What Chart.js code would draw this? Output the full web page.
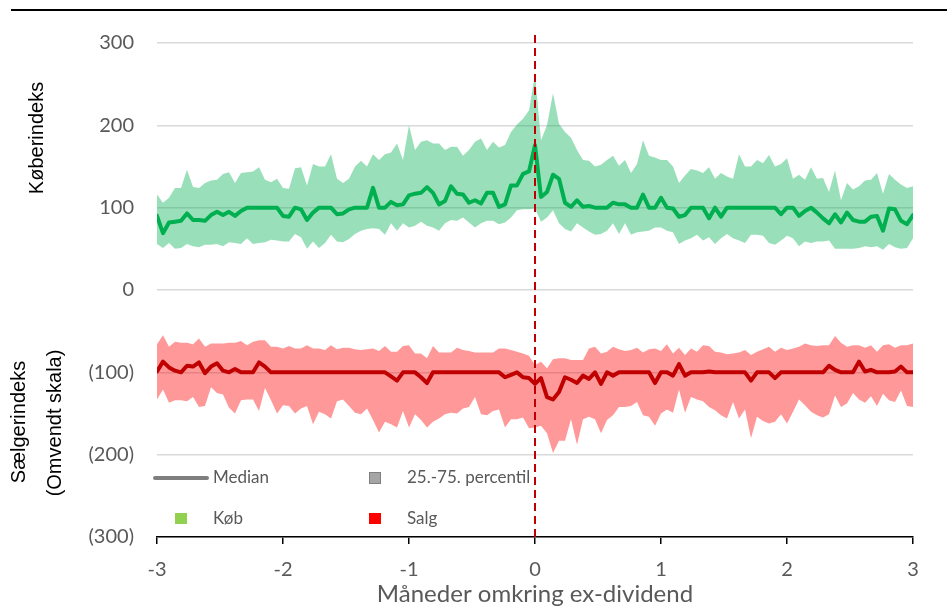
<!DOCTYPE html>
<html lang="da">
<head>
<meta charset="utf-8"/>
<title>Køber- og sælgerindeks omkring ex-dividend</title>
<script src="https://cdn.jsdelivr.net/npm/chart.js"></script>
<style>
    html, body { margin: 0; padding: 0; background: #fff; }
    #wrap { position: relative; width: 947px; height: 609px; }
    #topline { position: absolute; left: 11px; right: 0; top: 9px; height: 2px; background: #000; }
</style>
</head>
<body>
<div id="wrap">
    <canvas id="myChart" width="947" height="609"></canvas>
    <div id="topline"></div>
</div>
<script>
// trading days around ex-dividend day (21 trading days per month)
const tradingDays = Array.from({length: 127}, (_, i) => i - 63);
const daysPerMonth = 21;

// Købsindeks (buyer index)
const buyMedian = [90,69,82,83,84,93,85,85,84,91,
    95,91,95,90,96,100,100,100,100,100,
    100,90,89,100,98,85,94,100,100,100,
    92,93,98,100,100,100,124,100,100,107,
    103,104,115,117,118,125,118,104,108,126,
    117,116,106,109,105,118,118,101,104,127,
    127,141,144,176,113,119,140,135,106,101,
    109,101,102,100,100,100,106,104,104,100,
    100,116,100,100,112,100,99,89,91,100,
    100,100,87,100,89,100,100,100,100,100,
    100,100,100,100,92,100,100,90,96,100,
    94,87,81,92,82,94,85,83,83,89,
    90,72,99,98,84,80,91];
const buyP75 = [116,106,112,124,124,146,125,124,130,133,
    134,141,143,130,142,143,144,149,134,131,
    135,124,123,148,149,127,153,150,150,165,
    135,130,135,150,157,150,165,158,165,167,
    178,158,200,170,180,182,178,178,170,174,
    174,163,170,180,184,170,180,173,176,192,
    201,208,218,262,182,200,239,202,192,185,
    170,158,157,150,152,158,163,151,158,142,
    153,182,163,161,158,158,150,130,139,147,
    145,142,149,135,142,138,135,165,150,150,
    158,154,164,150,153,160,135,140,134,149,
    135,136,119,145,109,130,122,126,133,134,
    142,117,141,134,128,124,126];
const buyP25 = [56,51,57,50,51,56,53,52,55,55,
    56,53,58,57,56,63,56,57,58,61,
    60,59,59,68,64,50,59,51,57,67,
    59,58,62,68,72,74,75,74,67,81,
    72,81,76,78,83,78,76,72,81,85,
    84,88,82,76,81,84,84,80,82,88,
    97,98,98,99,83,88,97,81,74,71,
    81,76,71,67,68,72,81,68,81,67,
    70,71,72,76,76,72,70,56,60,63,
    67,60,64,56,63,68,63,60,57,67,
    67,66,57,55,60,66,63,53,59,57,
    59,59,60,50,50,50,50,51,53,52,
    53,49,56,52,50,51,63];

// Sælgerindeks (seller index, plotted on an inverted scale)
const sellMedian = [-99,-87,-94,-98,-100,-92,-93,-88,-101,-93,
    -89,-98,-100,-96,-100,-100,-100,-88,-93,-100,
    -100,-100,-100,-100,-100,-100,-100,-100,-100,-100,
    -100,-100,-100,-100,-100,-100,-100,-100,-100,-105,
    -110,-100,-100,-100,-106,-113,-100,-100,-100,-100,
    -100,-100,-100,-100,-100,-100,-100,-100,-106,-103,
    -100,-106,-107,-114,-107,-130,-133,-124,-106,-109,
    -113,-104,-108,-100,-114,-100,-104,-100,-100,-100,
    -100,-100,-100,-113,-100,-100,-104,-90,-104,-100,
    -100,-100,-99,-100,-100,-100,-100,-100,-100,-110,
    -100,-100,-100,-107,-100,-100,-100,-100,-100,-100,
    -100,-100,-92,-97,-100,-100,-100,-87,-99,-97,
    -100,-100,-100,-99,-93,-100,-100];
const sellP25 = [-66,-55,-69,-63,-64,-64,-66,-59,-69,-65,
    -65,-65,-64,-64,-62,-67,-63,-61,-61,-69,
    -69,-71,-68,-71,-71,-67,-71,-71,-73,-67,
    -72,-70,-70,-72,-73,-72,-71,-74,-68,-75,
    -75,-68,-67,-77,-77,-83,-68,-76,-76,-76,
    -70,-73,-74,-76,-76,-76,-76,-71,-71,-73,
    -75,-77,-80,-91,-87,-95,-84,-83,-83,-85,
    -85,-85,-71,-69,-77,-75,-69,-72,-74,-73,
    -70,-76,-72,-71,-74,-66,-77,-70,-79,-71,
    -75,-67,-68,-75,-76,-78,-77,-76,-73,-79,
    -75,-72,-69,-75,-70,-73,-71,-69,-65,-67,
    -68,-67,-67,-56,-64,-69,-67,-67,-70,-67,
    -75,-67,-66,-70,-67,-67,-65];
const sellP75 = [-133,-121,-137,-134,-134,-135,-130,-142,-141,-118,
    -125,-127,-143,-150,-134,-133,-133,-147,-119,-134,
    -150,-140,-141,-150,-144,-141,-163,-148,-151,-156,
    -135,-133,-141,-149,-151,-144,-158,-173,-160,-163,
    -167,-147,-167,-151,-158,-167,-160,-156,-151,-149,
    -150,-144,-142,-130,-151,-152,-147,-145,-167,-157,
    -157,-155,-168,-167,-165,-174,-198,-183,-183,-157,
    -188,-157,-154,-157,-174,-158,-152,-142,-142,-141,
    -136,-152,-154,-165,-150,-145,-149,-121,-149,-130,
    -133,-135,-142,-146,-152,-156,-136,-156,-145,-180,
    -154,-159,-162,-160,-151,-162,-148,-133,-140,-148,
    -152,-155,-151,-128,-142,-138,-125,-133,-137,-129,
    -141,-126,-134,-136,-122,-141,-142];

// ex-dividend marker
const exDivMonth = 0;
const exDivSpan = [-300, 310];

const xTicks = [-3, -2, -1, 0, 1, 2, 3];
const yTicks = [-300, -200, -100, 0, 100, 200, 300];
const xTitle = 'Måneder omkring ex-dividend';
const yTitles = ['Køberindeks', 'Sælgerindeks', '(Omvendt skala)'];
const legendLabels = ['Median', '25.-75. percentil', 'Køb', 'Salg'];

function points(values) {
    return values.map((v, i) => ({x: tradingDays[i] / daysPerMonth, y: v}));
}

const tickFont = {family: 'Lato, "Open Sans", sans-serif', size: 20};
const grey = '#595959';

// y axis titles and the little legend inside the plot
const annotations = {
    id: 'annotations',
    afterDraw(chart) {
        const ctx = chart.ctx;
        ctx.save();
        ctx.fillStyle = '#000';
        ctx.font = '20px "Liberation Sans", Arial, sans-serif';
        ctx.textAlign = 'center';
        ctx.textBaseline = 'middle';
        [[yTitles[0], 37, 138], [yTitles[1], 19, 422], [yTitles[2], 55, 423]].forEach(function (t) {
            ctx.save();
            ctx.translate(t[1], t[2]);
            ctx.rotate(-Math.PI / 2);
            ctx.fillText(t[0], 0, 0);
            ctx.restore();
        });

        // legend
        ctx.font = '17px Lato, "Open Sans", sans-serif';
        ctx.textAlign = 'left';
        ctx.fillStyle = grey;
        ctx.strokeStyle = '#7F7F7F';
        ctx.lineWidth = 4;
        ctx.lineCap = 'round';
        ctx.beginPath();
        ctx.moveTo(155, 478);
        ctx.lineTo(207, 478);
        ctx.stroke();
        ctx.fillText(legendLabels[0], 213, 478);

        ctx.lineWidth = 1;
        ctx.fillStyle = '#A5A5A5';
        ctx.fillRect(369.5, 472.5, 11, 11);
        ctx.strokeRect(369.5, 472.5, 11, 11);
        ctx.fillStyle = grey;
        ctx.fillText(legendLabels[1], 407, 478);

        ctx.fillStyle = '#92D050';
        ctx.fillRect(175, 513, 12, 11);
        ctx.fillStyle = grey;
        ctx.fillText(legendLabels[2], 213, 519);

        ctx.fillStyle = '#FF0000';
        ctx.fillRect(369, 513, 12, 11);
        ctx.fillStyle = grey;
        ctx.fillText(legendLabels[3], 407, 519);
        ctx.restore();
    }
};

var ctx = document.getElementById('myChart');
var mychart = new Chart(ctx, {
    type: 'line',
    data: {
        datasets: [
            {
                label: 'Ex-dividend',
                data: exDivSpan.map(y => ({x: exDivMonth, y: y})),
                borderColor: '#C00000',
                borderWidth: 2,
                borderDash: [8, 5],
                pointRadius: 0,
                fill: false,
                clip: false
            },
            {
                label: 'Køb median',
                data: points(buyMedian),
                borderColor: '#00B050',
                borderWidth: 4,
                borderJoinStyle: 'round',
                borderCapStyle: 'round',
                pointRadius: 0,
                fill: false
            },
            {
                label: 'Salg median',
                data: points(sellMedian),
                borderColor: '#C00000',
                borderWidth: 4,
                borderJoinStyle: 'round',
                borderCapStyle: 'round',
                pointRadius: 0,
                fill: false
            },
            {
                label: 'Køb 75. percentil',
                data: points(buyP75),
                borderWidth: 0,
                borderColor: 'rgba(0,0,0,0)',
                backgroundColor: 'rgba(0,176,80,0.4)',
                pointRadius: 0,
                fill: '+1'
            },
            {
                label: 'Køb 25. percentil',
                data: points(buyP25),
                borderWidth: 0,
                borderColor: 'rgba(0,0,0,0)',
                pointRadius: 0,
                fill: false
            },
            {
                label: 'Salg 25. percentil',
                data: points(sellP25),
                borderWidth: 0,
                borderColor: 'rgba(0,0,0,0)',
                backgroundColor: 'rgba(255,0,0,0.4)',
                pointRadius: 0,
                fill: '+1'
            },
            {
                label: 'Salg 75. percentil',
                data: points(sellP75),
                borderWidth: 0,
                borderColor: 'rgba(0,0,0,0)',
                pointRadius: 0,
                fill: false
            }
        ]
    },
    options: {
        responsive: false,
        animation: false,
        devicePixelRatio: 1,
        layout: {
            padding: {top: 43, right: 34, left: 0, bottom: 0}
        },
        plugins: {
            legend: {display: false},
            tooltip: {enabled: false}
        },
        scales: {
            x: {
                type: 'linear',
                min: -3,
                max: 3,
                afterBuildTicks: function (scale) {
                    scale.ticks = xTicks.map(v => ({value: v}));
                },
                afterFit: function (scale) {
                    scale.height = 72;
                },
                ticks: {
                    color: grey,
                    font: tickFont,
                    padding: 14,
                    maxRotation: 0
                },
                grid: {
                    drawOnChartArea: false,
                    drawTicks: true,
                    tickLength: 7,
                    color: '#000',
                    lineWidth: 1.5
                },
                border: {
                    display: true,
                    color: '#000',
                    width: 1.5
                },
                title: {
                    display: true,
                    text: xTitle,
                    color: grey,
                    font: {family: 'Lato, "Open Sans", sans-serif', size: 24},
                    padding: {top: 0, bottom: 0}
                }
            },
            y: {
                type: 'linear',
                min: -300,
                max: 300,
                afterBuildTicks: function (scale) {
                    scale.ticks = yTicks.map(v => ({value: v}));
                },
                afterFit: function (scale) {
                    scale.width = 157;
                },
                ticks: {
                    color: grey,
                    font: tickFont,
                    padding: 23,
                    callback: function (v) {
                        return v < 0 ? '(' + (-v) + ')' : String(v);
                    }
                },
                grid: {
                    color: '#D9D9D9',
                    lineWidth: 1.5,
                    drawTicks: false
                },
                border: {display: false}
            }
        }
    },
    plugins: [annotations]
});
</script>
</body>
</html>
